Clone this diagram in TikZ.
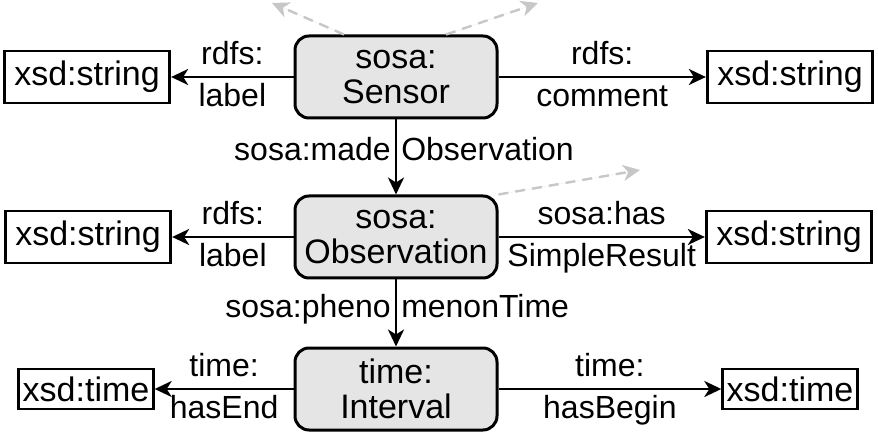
\documentclass[tikz,border=0pt]{standalone}
\usepackage{fontspec}
\setmainfont{Liberation Sans}
\usetikzlibrary{arrows.meta}
\begin{document}
\begin{tikzpicture}[>={Stealth[length=8.5pt,width=8pt,inset=2.5pt]},x=0.5pt,y=-0.5pt,
		cls/.style={draw,line width=1.5pt,rounded corners=7pt,fill=black!10,minimum width=101pt,minimum height=41pt,align=center,inner sep=1pt,font=\fontsize{17}{17.5}\selectfont},
		lit/.style={draw,line width=1.4pt,minimum height=26pt,inner xsep=5pt,font=\fontsize{17}{17.5}\selectfont},
		tight/.style={minimum height=20pt,inner xsep=2pt},
		rel/.style={->,line width=1.25pt},
		lbl/.style={inner xsep=2pt,inner ysep=2pt,text height=12pt,text depth=3.5pt,font=\fontsize{16}{17}\selectfont},
		hint/.style={->,dash pattern=on 5pt off 3.5pt,line width=1.2pt,draw=black!22,fill=black!22}]
		\useasboundingbox (0,0) rectangle (878,438);
		% classes
		\node[cls] (sensor) at (396,77) {sosa:\\Sensor};
		\node[cls] (obs) at (396,237) {sosa:\\Observation};
		\node[cls] (intv) at (396,389) {time:\\Interval};
		% literals
		\node[lit] (senlabel) at (87,77) {xsd:string};
		\node[lit] (sencomment) at (790,77) {xsd:string};
		\node[lit] (obslabel) at (88,237) {xsd:string};
		\node[lit] (obsresult) at (789,237) {xsd:string};
		\node[lit,tight] (intvend) at (86,389) {xsd:time};
		\node[lit,tight] (intvbegin) at (790,389) {xsd:time};
		% properties
		\draw[rel] (sensor) -- node[lbl,above]{rdfs:} node[lbl,below]{label} (senlabel);
		\draw[rel] (sensor) -- node[lbl,above]{rdfs:} node[lbl,below]{comment} (sencomment);
		\draw[rel] (sensor) -- node[lbl,left,pos=.44]{sosa:made} node[lbl,right,pos=.44]{Observation} (obs);
		\draw[rel] (obs) -- node[lbl,above]{rdfs:} node[lbl,below]{label} (obslabel);
		\draw[rel] (obs) -- node[lbl,above]{sosa:has} node[lbl,below]{SimpleResult} (obsresult);
		\draw[rel] (obs) -- node[lbl,left,pos=.44]{sosa:pheno} node[lbl,right,pos=.44]{menonTime} (intv);
		\draw[rel] (intv) -- node[lbl,above]{time:} node[lbl,below]{hasEnd} (intvend);
		\draw[rel] (intv) -- node[lbl,above]{time:} node[lbl,below]{hasBegin} (intvbegin);
		% hints of further links
		\coordinate (more1) at (272,3);
		\coordinate (more2) at (538,3);
		\coordinate (more3) at (640,170);
		\draw[hint] ([xshift=-26pt]sensor.north) -- (more1);
		\draw[hint] ([xshift=25pt]sensor.north) -- (more2);
		\draw[hint] (obs.north east) -- (more3);
\end{tikzpicture}
\end{document}
